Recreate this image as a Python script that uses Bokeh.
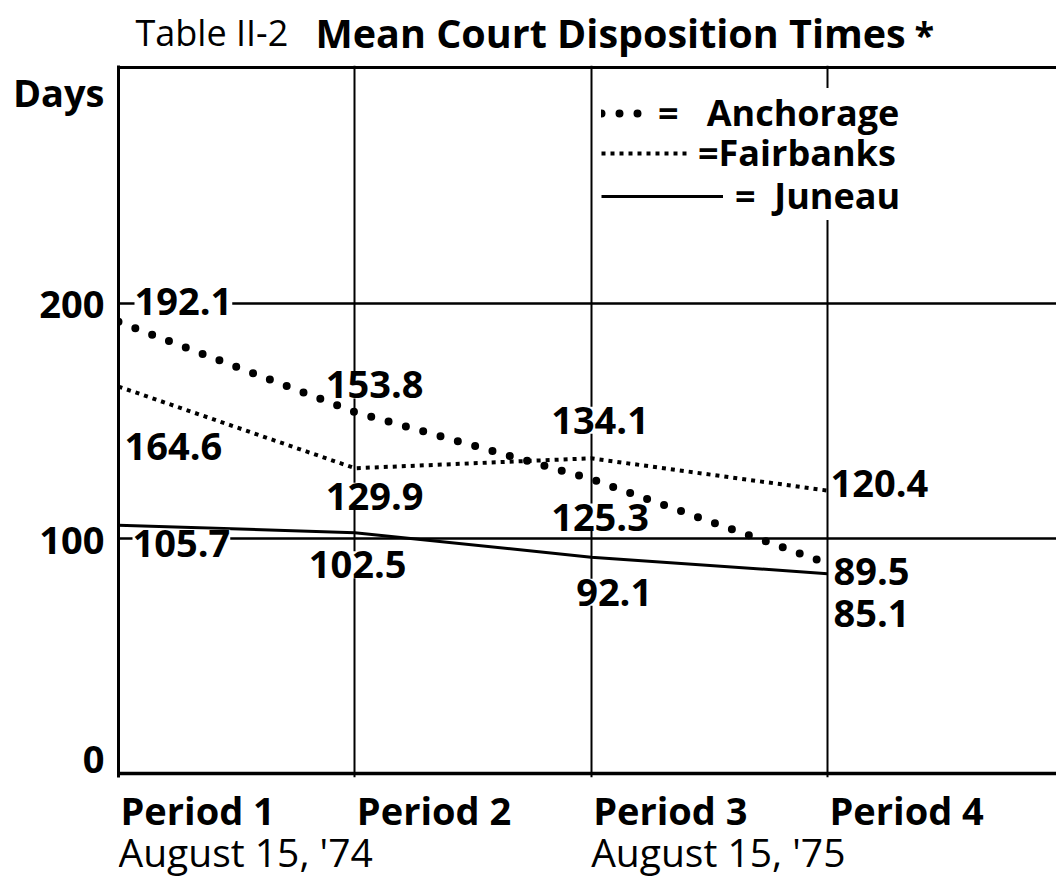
from bokeh.plotting import figure
from bokeh.layouts import column
from bokeh.models import (ColumnDataSource, Range1d, FixedTicker, LabelSet,
                          Legend, LegendItem, Grid)
from bokeh.core.properties import value
from bokeh.embed import file_html
from bokeh.resources import INLINE

# ---------------- data ----------------
periods = [1, 2, 3, 4]
period_labels = ["Period 1", "Period 2", "Period 3", "Period 4"]
date_labels = ["August 15, '74", "", "August 15, '75", ""]
anchorage = [192.1, 153.8, 125.3, 89.5]
fairbanks = [164.6, 129.9, 134.1, 120.4]
juneau = [105.7, 102.5, 92.1, 85.1]
y_ticks = [0, 100, 200]
y_title = "Days"
title_plain = "Table II-2"
title_bold = "Mean Court Disposition Times"
title_mark = "*"
legend_names = ["=\u00a0\u00a0\u00a0Anchorage", "=Fairbanks", "=\u00a0\u00a0Juneau"]

# ---------------- layout (label offsets in px, +y = up) ----------------
anch_dx = [16, -29, -40, 6]
anch_dy = [20, 27, -38, -8]
fair_dx = [6, -29, -40, 3]
fair_dy = [-60, -28, 38, 7]
jun_dx = [14, -46, -15, 6]
jun_dy = [-18, -32, -35, -40]

FONT = "Open Sans"
W = 1056
LEFT = 118
xr = Range1d(1, 4.969)

def bare(h):
    f = figure(width=W, height=h, output_backend="svg", toolbar_location=None,
               x_range=xr, y_range=Range1d(0, h), x_axis_location=None,
               y_axis_location=None, min_border_left=LEFT, min_border_right=0,
               min_border_top=0, min_border_bottom=0, outline_line_color=None,
               background_fill_color="white", border_fill_color="white")
    f.grid.visible = False
    return f

# ---------------- title strip ----------------
t = bare(65)
t.text(x=1, y=33, text=[title_plain], x_offset=17, text_font=value(FONT),
       text_font_size="36px", text_align="left", text_baseline="middle",
       text_color="black")
t.text(x=1, y=33, text=[title_bold], x_offset=197, text_font=value(FONT),
       text_font_size="39.5px", text_font_style="bold", text_align="left",
       text_baseline="middle", text_color="black")
t.text(x=1, y=31, text=[title_mark], x_offset=796, text_font=value(FONT),
       text_font_size="36px", text_font_style="bold", text_align="left",
       text_baseline="middle", text_color="black")

# ---------------- main chart ----------------
p = figure(width=W, height=718, output_backend="svg", toolbar_location=None,
           x_range=xr, y_range=Range1d(-1.5, 301), x_axis_location=None,
           min_border_left=LEFT, min_border_right=0, min_border_top=0,
           min_border_bottom=6, background_fill_color="white",
           border_fill_color="white", outline_line_color=None)

p.xgrid.ticker = FixedTicker(ticks=periods[1:])
p.xgrid.grid_line_color = "black"
p.xgrid.grid_line_width = 2
p.ygrid.ticker = FixedTicker(ticks=[100, 200])
p.ygrid.grid_line_color = "black"
p.ygrid.grid_line_width = 2.5
p.add_layout(Grid(dimension=1, ticker=FixedTicker(ticks=[0]),
                  grid_line_color="black", grid_line_width=3.5))
p.add_layout(Grid(dimension=1, ticker=FixedTicker(ticks=[300]),
                  grid_line_color="black", grid_line_width=3))

p.yaxis.ticker = FixedTicker(ticks=y_ticks + [292])
p.yaxis.major_label_overrides = {292: y_title}
p.yaxis.axis_line_width = 3
p.yaxis.axis_line_color = "black"
p.yaxis.major_tick_line_color = None
p.yaxis.major_tick_out = 0
p.yaxis.major_tick_in = 0
p.yaxis.minor_tick_line_color = None
p.yaxis.minor_tick_out = 0
p.yaxis.major_label_standoff = 14
p.yaxis.major_label_text_font = FONT
p.yaxis.major_label_text_font_size = "38px"
p.yaxis.major_label_text_font_style = "bold"
p.yaxis.major_label_text_color = "black"

ra = p.line(periods, anchorage, line_color="black", line_width=8,
            line_dash="0 18", line_cap="round")
rf = p.line(periods, fairbanks, line_color="black", line_width=4,
            line_dash="4 5", line_cap="butt")
rj = p.line(periods, juneau, line_color="black", line_width=3)

def add_values(vals, dx, dy):
    src = ColumnDataSource(dict(x=periods, y=vals, t=[f"{v:.1f}" for v in vals],
                                dx=dx, dy=dy))
    p.add_layout(LabelSet(x="x", y="y", text="t", x_offset="dx", y_offset="dy",
                          source=src, text_font=value(FONT), text_font_size="38px",
                          text_font_style="bold", text_align="left",
                          text_baseline="middle", text_color="black",
                          background_fill_color="white"))

add_values(anchorage, anch_dx, anch_dy)
add_values(fairbanks, fair_dx, fair_dy)
add_values(juneau, jun_dx, jun_dy)

def add_key(renderer, label, gw, standoff, vy):
    lg = Legend(items=[LegendItem(label=label, renderers=[renderer])],
                location=(483, vy), glyph_width=gw, glyph_height=42, label_height=42,
                label_standoff=standoff, padding=0, margin=0, spacing=0,
                label_text_font=FONT, label_text_font_size="36px",
                label_text_font_style="bold", label_text_color="black",
                border_line_color=None, background_fill_color="white",
                background_fill_alpha=1.0)
    p.add_layout(lg)

# bottom row first so upper rows paint over its background
add_key(rj, legend_names[2], 122, 12, 557)
add_key(rf, legend_names[1], 90, 7, 600)
add_key(ra, legend_names[0], 50, 7, 640)

# ---------------- category labels strip ----------------
b = bare(95)
b.text(x=periods, y=68.5, text=period_labels, x_offset=2, text_font=value(FONT),
       text_font_size="38px", text_font_style="bold", text_align="left",
       text_baseline="middle", text_color="black")
b.text(x=periods, y=27, text=date_labels, x_offset=0, text_font=value(FONT),
       text_font_size="39px", text_align="left", text_baseline="middle",
       text_color="black")

layout = column(t, p, b, spacing=0)
open("out.html", "w").write(file_html(layout, INLINE))
